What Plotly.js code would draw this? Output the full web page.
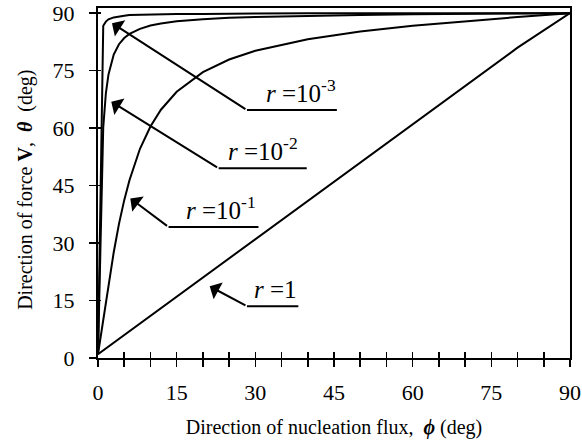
<!DOCTYPE html>
<html>
<head>
<meta charset="utf-8">
<script src="https://cdn.plot.ly/plotly-3.0.1.min.js"></script>
<style>html,body{margin:0;padding:0;background:#fff;}#chart{width:582px;height:447px;}</style>
</head>
<body>
<div id="chart"></div>
<script>
// Direction of nucleation flux phi (deg)
const phi = [0, 1, 1.5, 2, 3, 4, 5, 6, 8, 10, 12, 15, 20, 25, 30, 40, 50, 60, 70, 80, 90];
// Direction of force theta (deg) for each r
const theta_r1    = [1, 2, 2.5, 3, 4, 5, 6, 7, 9, 11, 13, 16, 21, 26, 31, 41, 51, 61, 71, 81, 90];
const theta_r1e_1 = [1, 9.9, 14.7, 19.2, 27.6, 35.0, 41.2, 46.4, 54.6, 60.4, 64.8, 69.5, 74.6, 77.9, 80.2, 83.2, 85.2, 86.7, 87.9, 89.0, 90];
const theta_r1e_2 = [1, 60.2, 69.1, 74.0, 79.2, 81.9, 83.5, 84.6, 85.9, 86.8, 87.3, 87.9, 88.4, 88.8, 89.0, 89.3, 89.5, 89.7, 89.8, 89.9, 90];
const theta_r1e_3 = [1, 86.7, 87.8, 88.4, 88.9, 89.2, 89.3, 89.5, 89.6, 89.7, 89.7, 89.8, 89.8, 89.9, 89.9, 90, 90, 90, 90, 90, 90];

const xTickVals = [0, 15, 30, 45, 60, 75, 90];
const xTickText = ['0', '15', '30', '45', '60', '75', '90'];
const yTickVals = [0, 15, 30, 45, 60, 75, 90];
const yTickText = ['0', '15', '30', '45', '60', '75', '90'];

const labels = ['<i>r</i> =10<sup>-3</sup>', '<i>r</i> =10<sup>-2</sup>', '<i>r</i> =10<sup>-1</sup>', '<i>r</i> =1'];

const line = {color: '#000', width: 2};
const traces = [
  {x: phi, y: theta_r1, mode: 'lines', line: line, hoverinfo: 'skip'},
  {x: phi, y: theta_r1e_1, mode: 'lines', line: line, hoverinfo: 'skip'},
  {x: phi, y: theta_r1e_2, mode: 'lines', line: line, hoverinfo: 'skip'},
  {x: phi, y: theta_r1e_3, mode: 'lines', line: line, hoverinfo: 'skip'},
  {x: [null], y: [null], xaxis: 'x2', yaxis: 'y2', mode: 'lines', hoverinfo: 'skip'}
];

const serif = 'Liberation Serif, Times New Roman, serif';

// arrow tips, tails, underline ends, text right edges
const arrows = [
  {tip: [2.67, 87.4], tail: [28.4, 64.7], end: 45.55, textX: 45.7},
  {tip: [2.53, 66.9], tail: [23.0, 49.5], end: 39.8, textX: 38.6},
  {tip: [6.16, 41.65], tail: [13.45, 34.2], end: 30.6, textX: 30.6},
  {tip: [21.3, 18.7], tail: [28.4, 13.5], end: 38.2, textX: 38.4}
];

const annotations = [];
const shapes = [];
arrows.forEach((a, i) => {
  annotations.push({
    x: a.tip[0], y: a.tip[1], ax: a.tail[0], ay: a.tail[1],
    xref: 'x', yref: 'y', axref: 'x', ayref: 'y',
    text: '', showarrow: true, arrowhead: 1, arrowsize: 1.6, arrowwidth: 2, arrowcolor: '#000'
  });
  shapes.push({type: 'line', xref: 'x', yref: 'y', x0: a.tail[0], x1: a.end, y0: a.tail[1], y1: a.tail[1],
    line: {color: '#000', width: 2}});
  annotations.push({
    x: a.textX, y: a.tail[1] + 0.3, xref: 'x', yref: 'y', xanchor: 'right', yanchor: 'bottom',
    text: labels[i], showarrow: false, font: {family: serif, size: 25, color: '#000'}
  });
});

// y-axis title placed as rotated text
annotations.push({
  xref: 'paper', yref: 'paper', x: -0.155, y: 0.48, xanchor: 'center', yanchor: 'middle',
  textangle: -90, showarrow: false,
  text: 'Direction of force <b>V</b>,  <i><b>θ</b></i>  (deg)',
  font: {family: serif, size: 20, color: '#000'}
});

const layout = {
  width: 582, height: 447,
  margin: {l: 98, r: 12, t: 8, b: 89, pad: 0},
  paper_bgcolor: '#fff', plot_bgcolor: '#fff',
  showlegend: false,
  font: {family: serif, size: 22, color: '#000'},
  xaxis: {
    range: [0, 90], tickvals: xTickVals, ticktext: xTickText,
    ticks: 'outside', ticklen: 7, tickwidth: 1.5, tickcolor: '#000',
    minor: {dtick: 5, tick0: 0, ticks: 'outside', ticklen: 7, tickwidth: 1.5, tickcolor: '#000', showgrid: false},
    showline: true, linewidth: 2, linecolor: '#000', mirror: true,
    showgrid: false, zeroline: false, ticklabelstandoff: 7,
    title: {text: 'Direction of nucleation flux,  <i><b>ϕ</b></i> (deg)', font: {family: serif, size: 20}, standoff: 16}
  },
  yaxis: {
    range: [0, 91.35], tickvals: yTickVals, ticktext: yTickText,
    ticks: 'outside', ticklen: 7, tickwidth: 1.5, tickcolor: '#000',
    showline: true, linewidth: 2, linecolor: '#000', mirror: true,
    showgrid: false, zeroline: false, ticklabelstandoff: 10
  },
  xaxis2: {
    overlaying: 'x', anchor: 'y2', side: 'bottom', range: [0, 90], dtick: 5, tick0: 0,
    ticks: 'inside', ticklen: 6, tickwidth: 1.5, tickcolor: '#000',
    showticklabels: false, showline: false, showgrid: false, zeroline: false
  },
  yaxis2: {
    overlaying: 'y', anchor: 'x2', side: 'left', range: [0, 91.35], dtick: 15, tick0: 0,
    ticks: 'inside', ticklen: 3, tickwidth: 1.5, tickcolor: '#000',
    showticklabels: false, showline: false, showgrid: false, zeroline: false
  },
  annotations: annotations,
  shapes: shapes
};

Plotly.newPlot('chart', traces, layout, {staticPlot: true, displayModeBar: false});
</script>
</body>
</html>
